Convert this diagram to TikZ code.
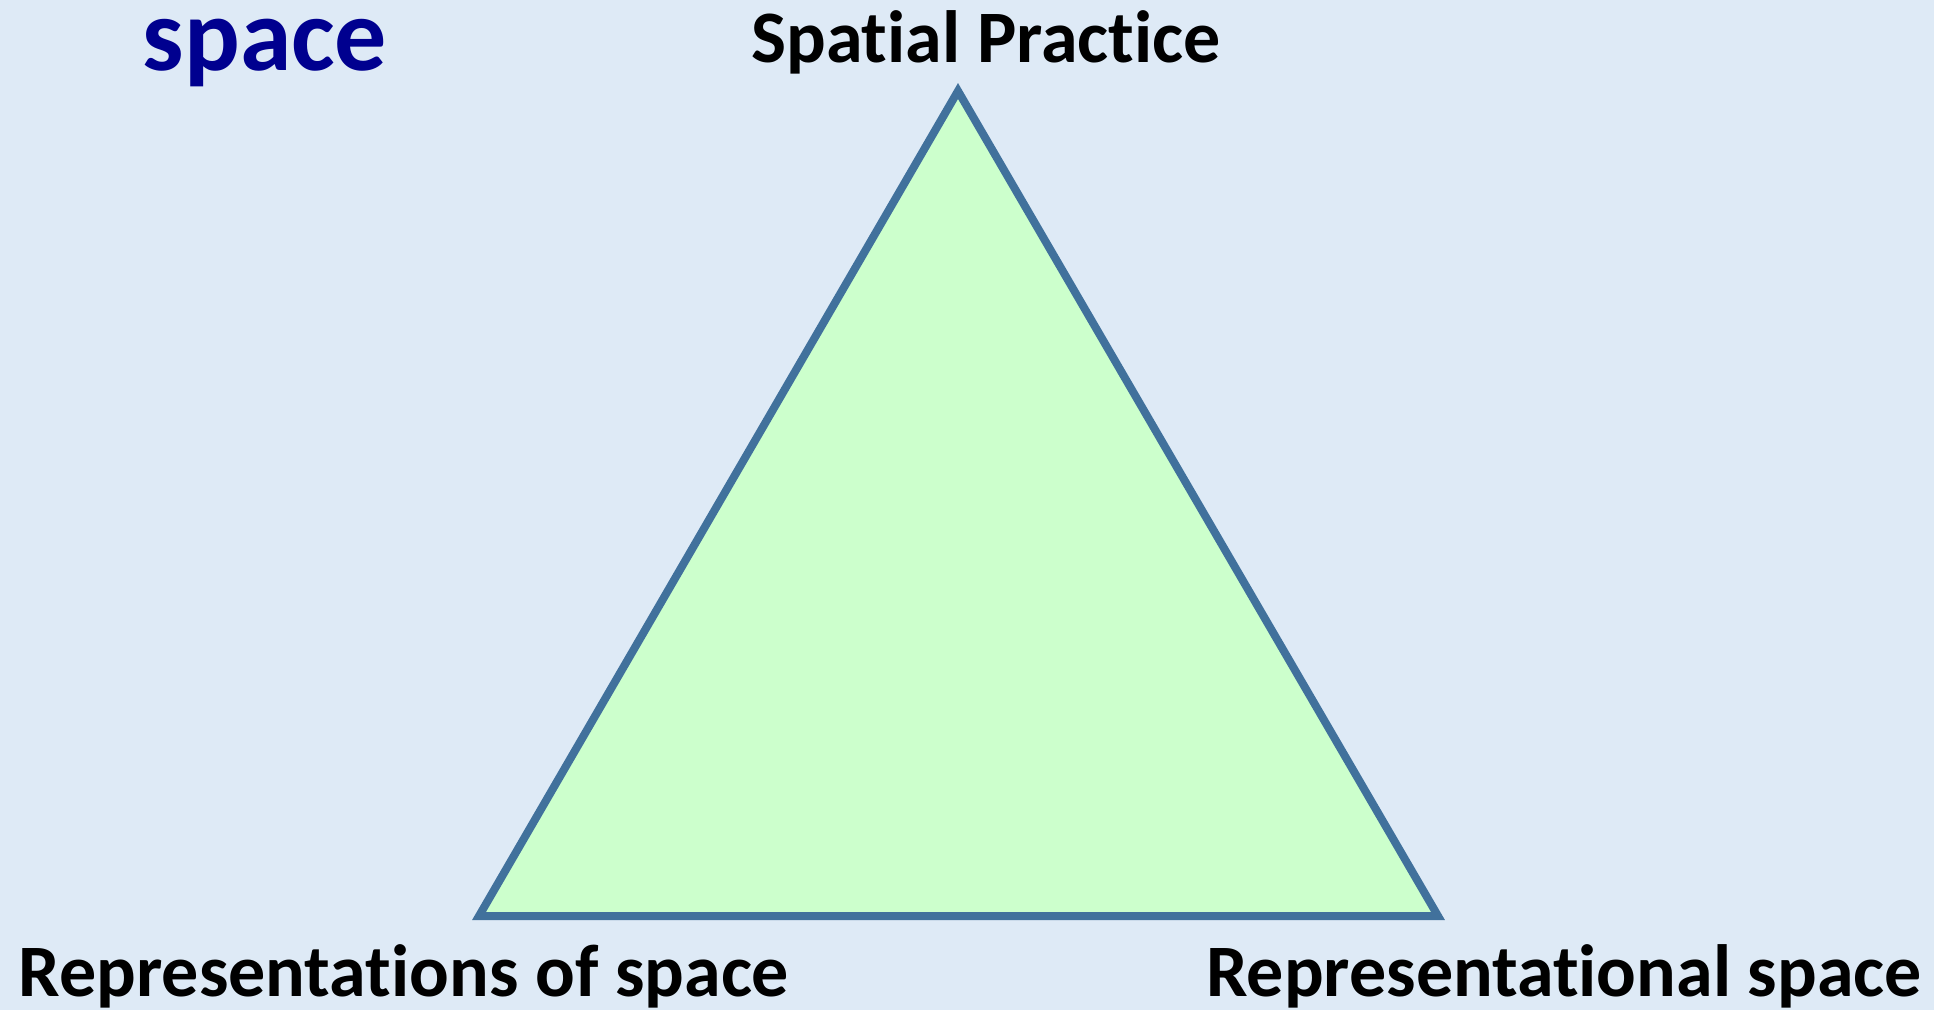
\documentclass[tikz,border=0pt]{standalone}
\usepackage{fontspec}
\setmainfont[Ligatures=NoCommon]{Carlito}
\usepackage{xcolor}
\usepackage{tikz}
\usetikzlibrary{positioning,calc}

\definecolor{bgblue}{HTML}{DEEAF6}
\definecolor{trifill}{HTML}{CCFFCC}
\definecolor{triedge}{HTML}{41719C}
\definecolor{titleblue}{HTML}{00008F}

\begin{document}
\begin{tikzpicture}[
    x=1pt, y=-1pt,
    corner/.style={font=\fontsize{74}{80}\selectfont\bfseries, text=black, inner sep=0pt, anchor=base},
    heading/.style={font=\fontsize{104}{110}\selectfont\bfseries, text=titleblue, inner sep=0pt, anchor=base},
    triangle/.style={draw=triedge, fill=trifill, line width=8pt, line join=miter}
]
    \fill [bgblue] (0,0) rectangle (1934,1010);
    \useasboundingbox (0,0) rectangle (1934,1010);

    \coordinate (top) at (958,91);
    \coordinate (left) at (479,916);
    \coordinate (right) at (1438,916);

    \draw [triangle] (top) -- (left) -- (right) -- cycle;

    \node [heading] (title) at (265,70) {space};
    \node [corner] (practice) at (986,62) {Spatial Practice};
    \node [corner] (repspace) at (404,996) {Representations of space};
    \node [corner] (repnal) at (1564,996) {Representational space};
\end{tikzpicture}
\end{document}
